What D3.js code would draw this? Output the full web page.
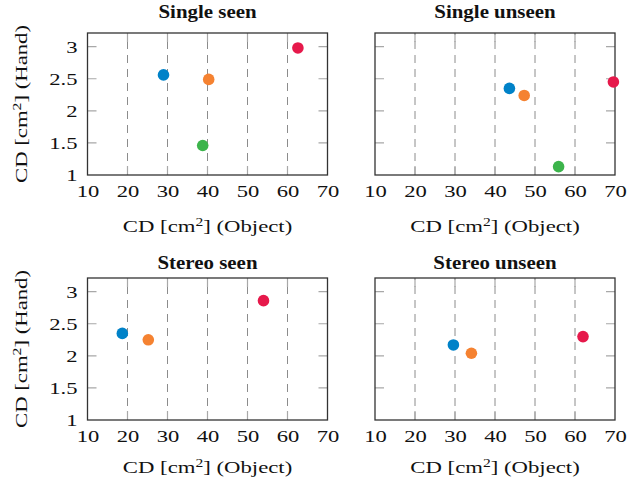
<!DOCTYPE html>
<html>
<head>
<meta charset="utf-8">
<script src="https://cdn.jsdelivr.net/npm/d3@7"></script>
<style>
  body { margin: 0; background: #fff; }
  svg { display: block; }
</style>
</head>
<body>
<svg width="637" height="487"></svg>
<script>
// values
var panelTitles = ["Single seen", "Single unseen", "Stereo seen", "Stereo unseen"];
var seriesColors = ["#0082c8", "#f58231", "#3cb44b", "#e6194b"];
// CD (Object) per panel, one entry per series (blue, orange, green, red)
var objectCD = [
  [29.0, 40.3, 38.8, 62.6],
  [43.6, 47.3, 55.9, 69.6],
  [18.7, 25.2, null, 54.0],
  [29.6, 34.1, null, 62.0]
];
// CD (Hand) per panel
var handCD = [
  [2.56, 2.49, 1.46, 2.98],
  [2.35, 2.24, 1.13, 2.45],
  [2.35, 2.25, null, 2.86],
  [2.17, 2.04, null, 2.30]
];
var xTicks = [10, 20, 30, 40, 50, 60, 70];
var yTicks = [1, 1.5, 2, 2.5, 3];

var svg = d3.select("svg");
var font = "'Liberation Serif', 'Times New Roman', serif";

var colLeft = [87.5, 375], plotW = 240;
var rowTop = [33, 278], plotH = 142;
var titleGap = [15, 9];      // title baseline above frame, per row
var xLabelGap = [57, 53];    // x label baseline below frame, per row

// the reference fonts run wider than Liberation Serif, so stretch along the baseline
var tickSx = 1.33, labelSx = 1.3, titleSx = 1.1;

function styleText(sel, size, sx) {
  sel.style("font-family", font)
    .style("font-size", size + "px")
    .attr("fill", "#111")
    .attr("transform", "scale(" + sx + ",1)");
}

function cdLabel(sel, rest) {
  sel.append("tspan").text("CD [cm");
  sel.append("tspan").attr("baseline-shift", "super").style("font-size", "12px").text("2");
  sel.append("tspan").text("] " + rest);
}

panelTitles.forEach(function(title, i) {
  var row = Math.floor(i / 2);
  var px = colLeft[i % 2], py = rowTop[row];
  var g = svg.append("g").attr("transform", "translate(" + px + "," + py + ")");

  var x = d3.scaleLinear().domain([10, 70]).range([0, plotW]);
  var y = d3.scaleLinear().domain([1, 3.213]).range([plotH, 0]);

  // dashed vertical grid
  g.append("g").selectAll("line")
    .data(xTicks.slice(1, -1))
    .enter().append("line")
    .attr("x1", function(d) { return x(d); })
    .attr("x2", function(d) { return x(d); })
    .attr("y1", plotH).attr("y2", 0)
    .attr("stroke", "#8c8c8c")
    .attr("stroke-width", 1)
    .attr("stroke-dasharray", "8,6");

  // inner ticks on left/right
  var tk = 9;
  g.append("g").selectAll("path")
    .data(yTicks.slice(1))
    .enter().append("path")
    .attr("d", function(d) {
      return "M0," + y(d) + "h" + tk + "M" + plotW + "," + y(d) + "h" + (-tk);
    })
    .attr("stroke", "#a8a8a8")
    .attr("stroke-width", 1.2);

  // inner ticks on top/bottom
  g.append("g").selectAll("path")
    .data(xTicks.slice(1, -1))
    .enter().append("path")
    .attr("d", function(d) {
      return "M" + x(d) + ",0v" + tk + "M" + x(d) + "," + plotH + "v" + (-tk);
    })
    .attr("stroke", "#a8a8a8")
    .attr("stroke-width", 1.2);

  // frame
  g.append("rect")
    .attr("width", plotW).attr("height", plotH)
    .attr("fill", "none")
    .attr("stroke", "#333")
    .attr("stroke-width", 1.3);

  // x tick labels
  var xAxis = g.append("g")
    .attr("transform", "translate(0," + plotH + ")")
    .call(d3.axisBottom(x).tickValues(xTicks).tickSize(0).tickPadding(10).tickFormat(d3.format("d")));
  xAxis.select(".domain").remove();
  styleText(xAxis.selectAll("text"), 17, tickSx);

  // y tick labels only on the left column
  if (i % 2 == 0) {
    var yAxis = g.append("g")
      .call(d3.axisLeft(y).tickValues(yTicks).tickSize(0).tickPadding(10 / tickSx).tickFormat(function(d) { return d; }));
    yAxis.select(".domain").remove();
    styleText(yAxis.selectAll("text"), 17, tickSx);

    var yl = g.append("g")
      .attr("transform", "translate(-60.5," + (plotH / 2) + ") rotate(-90)")
      .append("text")
      .attr("text-anchor", "middle");
    styleText(yl, 17.5, labelSx);
    cdLabel(yl, "(Hand)");
  }

  var xl = g.append("g")
    .attr("transform", "translate(" + (plotW / 2) + "," + (plotH + xLabelGap[row]) + ")")
    .append("text")
    .attr("text-anchor", "middle");
  styleText(xl, 17.5, labelSx);
  cdLabel(xl, "(Object)");

  // title
  var tt = g.append("g")
    .attr("transform", "translate(" + (plotW / 2) + "," + (-titleGap[row]) + ")")
    .append("text")
    .attr("text-anchor", "middle")
    .style("font-weight", "bold")
    .text(title);
  styleText(tt, 19, titleSx);

  // points
  var pts = objectCD[i].map(function(v, k) {
    return { x: v, y: handCD[i][k], c: seriesColors[k] };
  }).filter(function(d) { return d.x != null; });

  g.append("g").selectAll("circle")
    .data(pts)
    .enter().append("circle")
    .attr("cx", function(d) { return x(d.x); })
    .attr("cy", function(d) { return y(d.y); })
    .attr("r", 5.8)
    .attr("fill", function(d) { return d.c; });
});
</script>
</body>
</html>
